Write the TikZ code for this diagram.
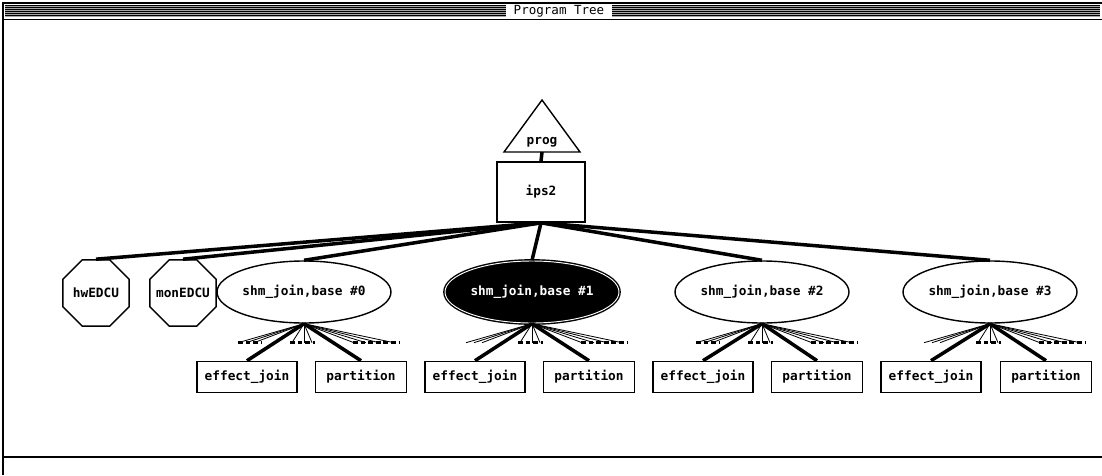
\documentclass[tikz,border=0pt]{standalone}
\usepackage{fontspec}
\setmainfont{DejaVu Sans Mono}
\usetikzlibrary{shapes.geometric}

\newcommand{\lbl}{\fontsize{10.9}{13}\selectfont\bfseries}

\tikzset{
  box/.style={draw, line width=1.4pt, minimum height=0.93cm, inner sep=0pt, font=\lbl},
  octa/.style={draw, regular polygon, regular polygon sides=8, minimum size=2.15cm,
    line width=1.2pt, inner sep=0pt},
  oval/.style={draw, ellipse, minimum width=4.2cm, minimum height=1.86cm,
    inner sep=0pt, line width=1.2pt, font=\lbl},
  trunk/.style={line width=3pt},
  twig/.style={line width=0.7pt},
  stub/.style={line width=3pt, dash pattern=on 4pt off 2.5pt},
}

\newcommand{\fanout}[2]{%
  \foreach \dx in {-66,-58,-50,-12,0,8,50,62,75,90}
    \draw[twig] (#1.south) -- ++(\dx,19);
  \foreach \a/\b in {#2}
    \draw[stub] (#1.south) ++(\a,19) -- ++({\b-\a},0);
}

\begin{document}
\begin{tikzpicture}[x=0.03cm,y=-0.03cm]
  \useasboundingbox (0,0) rectangle (1102,475);

  % window frame and title bar
  \draw[line width=1.5pt] (3,475) -- (3,3) -- (1102,3);
  \fill[gray!70] (5,5) rectangle (1100,17);
  \foreach \y in {5.5,7.5,...,16.5}
    \draw[line width=1.3pt] (5,\y) -- (1100,\y);
  \draw[line width=1.5pt] (3,19.5) -- (1102,19.5);
  \node[fill=white, minimum width=3.2cm, minimum height=0.4cm, inner sep=0pt,
    font=\fontsize{10.7}{12}\selectfont] (title) at (559,11) {Program Tree};
  \draw[line width=1.5pt] (3,457) -- (1102,457);

  % root
  \draw[line width=1.2pt] (542,100) -- (504,152) -- (580,152) -- cycle;
  \node[font=\lbl] (prog) at (542,142) {prog};
  \coordinate (progbase) at (542,152);
  \node[box, minimum width=2.64cm, minimum height=1.8cm] (ips2) at (541,192) {ips2};
  \draw[trunk] (progbase) -- (ips2.north);

  % second level
  \node[octa, label={[font=\lbl]center:hwEDCU}] (hw) at (96,293) {};
  \node[octa, label={[font=\lbl]center:monEDCU}] (mon) at (183,293) {};
  \node[oval] (shmA) at (304,292) {shm\_join,base \#0};
  \node[oval, fill=black, double=white, double distance=0.8pt, text=white] (shmB) at (532,292)
    {shm\_join,base \#1};
  \node[oval] (shmC) at (762,292) {shm\_join,base \#2};
  \node[oval] (shmD) at (990,292) {shm\_join,base \#3};

  \foreach \n in {hw,mon,shmA,shmB,shmC,shmD}
    \draw[trunk] (ips2.south) -- (\n.north);

  % leaves
  \node[box, minimum width=3cm] (effA) at (247,377) {effect\_join};
  \node[box, minimum width=2.73cm] (partA) at (361,377) {partition};
  \node[box, minimum width=3cm] (effB) at (475,377) {effect\_join};
  \node[box, minimum width=2.73cm] (partB) at (589,377) {partition};
  \node[box, minimum width=3cm] (effC) at (703,377) {effect\_join};
  \node[box, minimum width=2.73cm] (partC) at (817,377) {partition};
  \node[box, minimum width=3cm] (effD) at (931,377) {effect\_join};
  \node[box, minimum width=2.73cm] (partD) at (1046,377) {partition};

  \fanout{shmA}{-66/-42,-14/11,49/96}
  \fanout{shmB}{-14/11,49/96}
  \fanout{shmC}{-66/-42,-14/11,49/96}
  \fanout{shmD}{-14/11,49/96}

  \draw[trunk] (shmA.south) -- (effA.north);
  \draw[trunk] (shmA.south) -- (partA.north);
  \draw[trunk] (shmB.south) -- (effB.north);
  \draw[trunk] (shmB.south) -- (partB.north);
  \draw[trunk] (shmC.south) -- (effC.north);
  \draw[trunk] (shmC.south) -- (partC.north);
  \draw[trunk] (shmD.south) -- (effD.north);
  \draw[trunk] (shmD.south) -- (partD.north);
\end{tikzpicture}
\end{document}
